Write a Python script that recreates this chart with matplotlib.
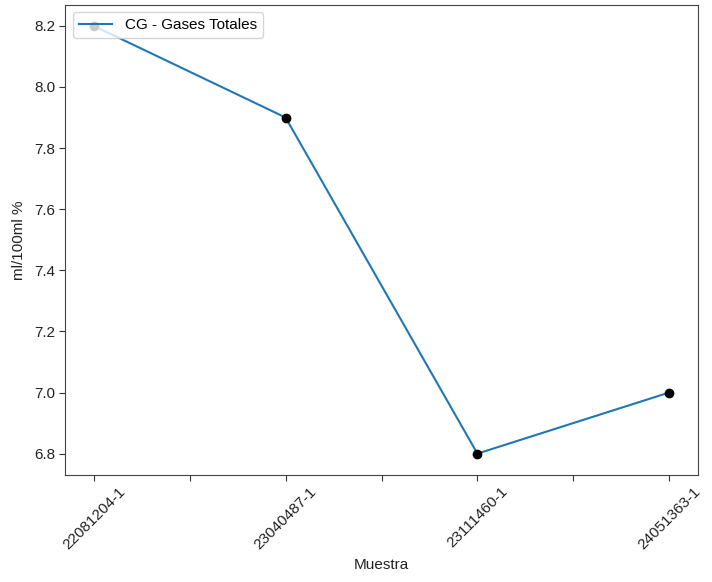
import matplotlib
matplotlib.use("Agg")
import matplotlib.pyplot as plt
import numpy as np

plt.rcParams['font.family'] = ['Liberation Sans', 'DejaVu Sans']

samples = ["22081204-1", "23040487-1", "23111460-1", "24051363-1"]
values = [8.2, 7.9, 6.8, 7.0]
series_label = "CG - Gases Totales"

fs = 11
fig = plt.figure(figsize=(7.12, 5.82), dpi=100)
ax = fig.add_axes([65/712, 1-475/582, 633/712, 470.5/582])

x = np.arange(len(samples))
ax.plot(x, values, color='#1f77b4', lw=1.5, label=series_label, zorder=2)
ax.scatter(x, values, color='black', s=36, zorder=3)

ticks = np.arange(0, len(samples) - 0.5 + 0.01, 0.5)
ax.set_xticks(ticks)
labels = [samples[int(t)] if float(t).is_integer() else "" for t in ticks]
ax.set_xticklabels(labels, rotation=45, fontsize=fs)
ax.margins(x=0.05, y=0.05)
yt = [6.8, 7.0, 7.2, 7.4, 7.6, 7.8, 8.0, 8.2]
ax.set_yticks(yt)
ax.set_yticklabels([f"{v:.1f}" for v in yt], fontsize=fs)
ax.tick_params(colors='#333333', labelcolor='#222222', length=4.3, pad=2.5)
for s in ax.spines.values():
    s.set_color('#444444')
ax.set_xlabel("Muestra", fontsize=fs, color='#222222')
ax.set_ylabel("ml/100ml %", fontsize=fs, color='#222222', labelpad=6)
ax.legend(loc='upper left', fontsize=fs, handlelength=2.2)

fig.savefig("out.png", dpi=100)
